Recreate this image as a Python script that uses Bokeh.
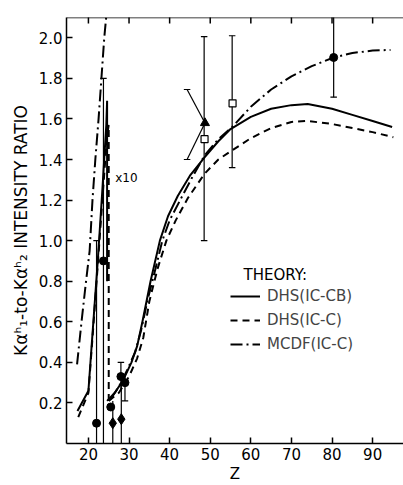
import math
from bokeh.plotting import figure
from bokeh.models import (Range1d, FixedTicker, Legend, LegendItem, Label, Span)
from bokeh.embed import file_html
from bokeh.resources import INLINE

# ---------------- data ----------------
x_ticks = [20, 30, 40, 50, 60, 70, 80, 90]
x_tick_labels = ["20", "30", "40", "50", "60", "70", "80", "90"]
y_ticks = [0.2, 0.4, 0.6, 0.8, 1.0, 1.2, 1.4, 1.6, 1.8, 2.0]
y_tick_labels = ["0.2", "0.4", "0.6", "0.8", "1.0", "1.2", "1.4", "1.6", "1.8", "2.0"]
X_MIN, X_MAX = 14.6, 97.6
Y_MIN, Y_MAX = 0.0, 2.1

# theory curves, low-Z part (x10)
solid_low_z = [17.3, 20.0, 21.0, 22.3, 23.4, 24.4, 24.6, 24.6]
solid_low_y = [0.16, 0.26, 0.54, 0.90, 1.24, 1.57, 1.69, 0.80]
dashed_low_z = [17.5, 20.0, 21.0, 22.3, 23.5, 24.6, 25.0, 25.0]
dashed_low_y = [0.13, 0.25, 0.52, 0.88, 1.22, 1.52, 1.57, 0.21]
mcdf_low_z = [17.2, 18.3, 19.3, 20.3, 21.0, 21.7, 22.5, 23.2, 23.9, 24.6]
mcdf_low_y = [0.39, 0.60, 0.78, 0.95, 1.20, 1.40, 1.60, 1.80, 2.00, 2.15]

# theory curves, high-Z part
solid_high_z = [24.6, 26.5, 28.5, 30.6, 32.0, 33.3, 35.3, 37.6, 39.6, 42.0, 45.0, 48.6,
                52.0, 55.0, 60.0, 65.0, 70.0, 74.0, 80.0, 85.0, 90.0, 94.8]
solid_high_y = [0.21, 0.25, 0.31, 0.40, 0.48, 0.60, 0.80, 1.00, 1.12, 1.22, 1.32, 1.41,
                1.49, 1.55, 1.61, 1.65, 1.668, 1.674, 1.65, 1.62, 1.59, 1.56]
dashed_high_z = [25.0, 27.5, 30.0, 32.0, 33.5, 35.0, 37.0, 39.2, 41.5, 44.5, 48.6, 52.0,
                 55.4, 60.0, 65.0, 70.0, 74.0, 80.0, 85.0, 90.0, 95.1]
dashed_high_y = [0.21, 0.25, 0.33, 0.42, 0.52, 0.70, 0.86, 1.00, 1.10, 1.21, 1.33, 1.40,
                 1.445, 1.505, 1.555, 1.585, 1.59, 1.575, 1.555, 1.535, 1.51]
mcdf_high_z = [25.5, 27.5, 29.5, 31.5, 33.0, 34.6, 36.5, 38.2, 40.0, 42.6, 45.5, 48.6,
               52.0, 55.4, 60.0, 65.0, 70.0, 75.0, 80.4, 85.0, 90.0, 94.4]
mcdf_high_y = [0.22, 0.28, 0.36, 0.45, 0.56, 0.71, 0.86, 1.00, 1.10, 1.20, 1.31, 1.42,
               1.50, 1.56, 1.66, 1.745, 1.81, 1.86, 1.903, 1.925, 1.937, 1.94]

# measured points
circle_z = [22.0, 23.7, 25.5, 28.0, 29.0, 80.4]
circle_y = [0.10, 0.90, 0.18, 0.33, 0.30, 1.903]
diamond_z = [26.0, 28.1]
diamond_y = [0.10, 0.12]
square_z = [48.6, 55.5]
square_y = [1.50, 1.677]
triangle_z = [48.7]
triangle_y = [1.58]

# vertical error bars
err_z = [22.0, 23.7, 26.0, 28.1, 28.0, 29.0, 48.5, 55.4, 80.4]
err_lo = [0.0, 0.0, 0.0, 0.0, 0.26, 0.21, 1.00, 1.36, 1.707]
err_hi = [1.00, 1.80, 0.21, 0.29, 0.40, 0.34, 2.006, 2.01, 2.30]
cap_top = [True, True, False, False, True, False, True, True, False]
cap_bot = [False, False, False, False, False, True, True, True, True]

# slanted error bar of the triangle point
tri_err_z = 44.3
tri_err_lo = 1.40
tri_err_hi = 1.745

# ---------------- figure ----------------
FONT = "DejaVu Sans"
CAP = 0.8  # half width of error-bar caps (Z units)

p = figure(width=403, height=485, x_range=Range1d(X_MIN, X_MAX), y_range=Range1d(Y_MIN, Y_MAX),
           output_backend="svg", toolbar_location=None,
           min_border_left=66, min_border_right=0, min_border_top=17, min_border_bottom=41,
           x_axis_label="Z", y_axis_label="K\u03b1\u02b0\u2081-to-K\u03b1\u02b0\u2082 INTENSITY RATIO")
p.grid.visible = False
p.outline_line_color = None
p.background_fill_color = "white"
p.border_fill_color = "white"

for ax in (p.xaxis[0], p.yaxis[0]):
    ax.major_tick_in = 6
    ax.major_tick_out = 0
    ax.minor_tick_line_color = None
    ax.axis_line_width = 1.5
    ax.major_tick_line_width = 1.5
    ax.major_label_text_font = FONT
    ax.major_label_text_font_size = "15px"
    ax.major_label_text_color = "black"
    ax.axis_label_text_font = FONT
    ax.axis_label_text_font_style = "normal"
    ax.axis_label_text_color = "black"

p.xaxis[0].ticker = FixedTicker(ticks=x_ticks)
p.xaxis[0].major_label_overrides = dict(zip(x_ticks, x_tick_labels))
p.xaxis[0].major_label_standoff = 4
p.xaxis[0].axis_label_standoff = 2
p.xaxis[0].axis_label_text_font_size = "15px"

p.yaxis[0].ticker = FixedTicker(ticks=y_ticks)
p.yaxis[0].major_label_overrides = dict(zip(y_ticks, y_tick_labels))
p.yaxis[0].major_label_standoff = 4
p.yaxis[0].axis_label_standoff = 5
p.yaxis[0].axis_label_text_font_size = "17px"

# top frame line with inward ticks
p.add_layout(Span(location=Y_MAX, dimension="width", line_color="black", line_width=1.5))
p.scatter(x_ticks, [Y_MAX] * len(x_ticks), marker="dash", angle=math.pi / 2, size=12,
          line_color="black", line_width=1.5)

LW = 2
r_sh = p.line(solid_high_z, solid_high_y, line_color="black", line_width=LW)
r_dh = p.line(dashed_high_z, dashed_high_y, line_color="black", line_width=LW, line_dash="7 5")
r_mh = p.line(mcdf_high_z, mcdf_high_y, line_color="black", line_width=LW, line_dash="12 4 2 4")
p.line(solid_low_z, solid_low_y, line_color="black", line_width=LW)
p.line(dashed_low_z, dashed_low_y, line_color="black", line_width=LW, line_dash="7 5")
p.line(mcdf_low_z, mcdf_low_y, line_color="black", line_width=LW, line_dash="12 4 2 4")

# error bars
p.segment(x0=err_z, y0=err_lo, x1=err_z, y1=err_hi, line_color="black", line_width=1.2)
tz = [z for z, c in zip(err_z, cap_top) if c]
ty = [h for h, c in zip(err_hi, cap_top) if c]
p.segment(x0=[z - CAP for z in tz], y0=ty, x1=[z + CAP for z in tz], y1=ty,
          line_color="black", line_width=1.2)
bz = [z for z, c in zip(err_z, cap_bot) if c]
by = [l for l, c in zip(err_lo, cap_bot) if c]
p.segment(x0=[z - CAP for z in bz], y0=by, x1=[z + CAP for z in bz], y1=by,
          line_color="black", line_width=1.2)
# slanted error bar
p.segment(x0=[triangle_z[0], triangle_z[0]], y0=[triangle_y[0], triangle_y[0]],
          x1=[tri_err_z, tri_err_z], y1=[tri_err_hi, tri_err_lo], line_color="black", line_width=1.2)
p.segment(x0=[tri_err_z - CAP, tri_err_z - CAP], y0=[tri_err_hi, tri_err_lo],
          x1=[tri_err_z + CAP, tri_err_z + CAP], y1=[tri_err_hi, tri_err_lo],
          line_color="black", line_width=1.2)

# markers
p.scatter(circle_z, circle_y, marker="circle", size=8, fill_color="black", line_color="black")
p.scatter(diamond_z, diamond_y, marker="diamond", size=11, fill_color="black", line_color="black")
p.scatter(square_z, square_y, marker="square", size=7, fill_color="white", line_color="black", line_width=1.2)
p.scatter(triangle_z, triangle_y, marker="triangle", size=9, fill_color="black", line_color="black")

# annotations
p.add_layout(Label(x=26.6, y=1.31, text="x10", text_font=FONT, text_font_size="12px",
                   text_baseline="alphabetic", text_color="black"))
p.add_layout(Label(x=58.2, y=0.83, text="THEORY:", text_font=FONT, text_font_size="15px",
                   text_baseline="alphabetic", text_color="black"))

legend = Legend(items=[LegendItem(label="DHS(IC-CB)", renderers=[r_sh]),
                       LegendItem(label="DHS(IC-C)", renderers=[r_dh]),
                       LegendItem(label="MCDF(IC-C)", renderers=[r_mh])],
                location=(164, 90), glyph_width=30, glyph_height=18, label_height=18,
                spacing=6, padding=0, margin=0, label_standoff=7,
                label_text_font=FONT, label_text_font_size="15px",
                border_line_color=None, background_fill_alpha=0)
p.add_layout(legend)

open("out.html", "w").write(file_html(p, INLINE))
